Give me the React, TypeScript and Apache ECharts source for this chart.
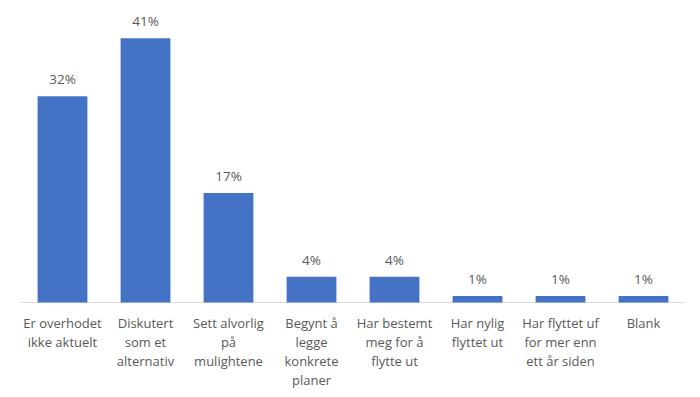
import React, { useEffect, useRef } from "react";
import * as echarts from "echarts";

const categories = [
  "Er overhodet\nikke aktuelt",
  "Diskutert\nsom et\nalternativ",
  "Sett alvorlig\npå\nmulightene",
  "Begynt å\nlegge\nkonkrete\nplaner",
  "Har bestemt\nmeg for å\nflytte ut",
  "Har nylig\nflyttet ut",
  "Har flyttet uf\nfor mer enn\nett år siden",
  "Blank",
];
const values = [32, 41, 17, 4, 4, 1, 1, 1];

const FONT = "'Open Sans', Lato, sans-serif";

export default function App() {
  const ref = useRef<HTMLDivElement>(null);
  useEffect(() => {
    if (!ref.current) return;
    const chart = echarts.init(ref.current, undefined, { renderer: "svg" });
    chart.setOption({
      animation: false,
      grid: { left: 21, right: 15, top: 12.5, bottom: 94.5, containLabel: false },
      xAxis: {
        type: "category",
        data: categories,
        axisLine: { lineStyle: { color: "#d9d9d9", width: 1 } },
        axisTick: { show: false },
        axisLabel: {
          interval: 0,
          color: "#595959",
          fontSize: 13,
          lineHeight: 19,
          margin: 11,
          fontFamily: FONT,
          align: "center",
        },
      },
      yAxis: {
        type: "value",
        min: 0,
        max: 45,
        show: false,
        splitLine: { show: false },
      },
      series: [
        {
          type: "bar",
          data: values,
          barWidth: "60%",
          itemStyle: { color: "#4472C4" },
          label: {
            show: true,
            position: "top",
            distance: 10,
            formatter: "{c}%",
            color: "#595959",
            fontSize: 13.5,
            fontFamily: FONT,
          },
        },
      ],
    });
    return () => chart.dispose();
  }, []);
  return <div ref={ref} style={{ width: 700, height: 397, margin: -8 }} />;
}
